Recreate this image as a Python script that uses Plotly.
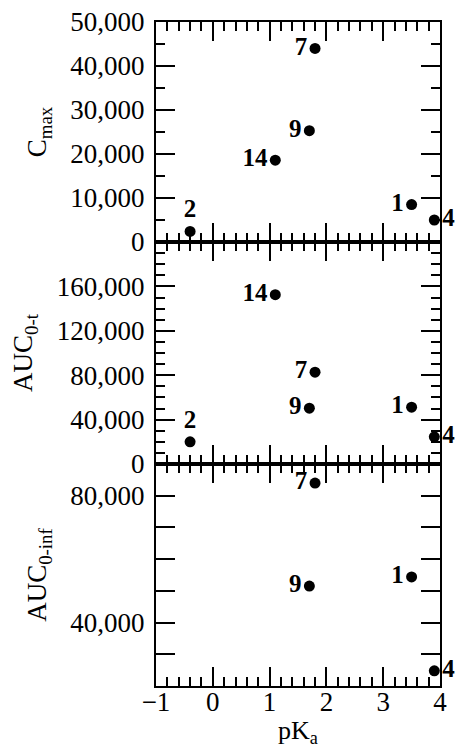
import plotly.graph_objects as go

# ---------------- data ----------------
compounds = ["1", "2", "4", "7", "9", "14"]
pka = [3.5, -0.4, 3.9, 1.8, 1.7, 1.1]
cmax = [8500, 2400, 5000, 44000, 25300, 18600]
auc_0t = [51200, 20000, 24500, 82700, 50300, 152500]
auc_0inf = [54400, None, 24800, 84000, 51500, None]
label_pos = ["middle left", "top center", "middle right",
             "middle left", "middle left", "middle left"]

x_ticks = [-1, 0, 1, 2, 3, 4]
cmax_ticks = [0, 10000, 20000, 30000, 40000, 50000]
auc0t_ticks = [0, 40000, 80000, 120000, 160000]
aucinf_ticks = [40000, 80000]

SERIF = "Liberation Serif"

fig = go.Figure()

panels = [(cmax, "x", "y"), (auc_0t, "x2", "y2"), (auc_0inf, "x3", "y3")]
for vals, xa, ya in panels:
    xs, ys, ts, ps = [], [], [], []
    for c, xv, yv, p in zip(compounds, pka, vals, label_pos):
        if yv is None:
            continue
        xs.append(xv); ys.append(yv); ts.append(c); ps.append(p)
    fig.add_trace(go.Scatter(
        x=xs, y=ys, text=ts, textposition=ps, mode="markers+text",
        marker=dict(color="black", size=11),
        textfont=dict(family=SERIF, size=25, color="black", weight="bold"),
        cliponaxis=False, xaxis=xa, yaxis=ya, showlegend=False,
    ))

h = 664.0
d3 = (0, 222 / h)
d2 = (222 / h, 444 / h)
d1 = (444 / h, 1)

common_axis = dict(
    showline=True, linecolor="black", linewidth=2, mirror="ticks",
    ticks="inside", tickcolor="black", tickwidth=2, showgrid=False,
    zeroline=False, automargin=False, ticklabelstandoff=4,
    tickfont=dict(family=SERIF, size=27, color="black"),
)

def minor(dt, ln):
    return dict(dtick=dt, tick0=0, ticklen=ln, tickwidth=2,
                tickcolor="black", ticks="inside", showgrid=False)

xcommon = dict(common_axis, range=[-1, 4], tickvals=x_ticks, ticklen=19,
               minor=minor(0.2, 9))

ytitle_font = dict(family=SERIF, size=27, color="black")

fig.update_layout(
    width=464, height=749,
    margin=dict(l=156, r=24, t=22, b=63, autoexpand=False),
    paper_bgcolor="white", plot_bgcolor="white",
    xaxis=dict(xcommon, domain=[0, 1], anchor="y", matches="x3",
               showticklabels=False),
    xaxis2=dict(xcommon, domain=[0, 1], anchor="y2", matches="x3",
                showticklabels=False),
    xaxis3=dict(xcommon, domain=[0, 1], anchor="y3", ticklabelstandoff=-9,
                title=dict(text="pK<sub>a</sub>",
                           font=dict(family=SERIF, size=26, color="black"),
                           standoff=4)),
    # explicit top axis for the upper panel so its top ticks are always drawn
    xaxis4=dict(xcommon, domain=[0, 1], anchor="y", overlaying="x",
                side="top", matches="x3", mirror=False,
                showticklabels=False),
    yaxis=dict(common_axis, domain=list(d1), anchor="x", range=[0, 50000],
               tickvals=cmax_ticks, tickformat=",", ticklen=19,
               minor=minor(5000, 9),
               title=dict(text="C<sub>max</sub>", font=ytitle_font,
                          standoff=16)),
    yaxis2=dict(common_axis, domain=list(d2), anchor="x2", range=[0, 200000],
                tickvals=auc0t_ticks, tickformat=",", ticklen=19,
                minor=minor(10000, 9),
                title=dict(text="AUC<sub>0-t</sub>", font=ytitle_font,
                           standoff=16)),
    yaxis3=dict(common_axis, domain=list(d3), anchor="x3", range=[20000, 90000],
                tickvals=aucinf_ticks, tickformat=",", ticklen=19,
                minor=minor(10000, 19),
                title=dict(text="AUC<sub>0-inf</sub>", font=ytitle_font,
                           standoff=16)),
)

# remove the default 8px page margin so the figure sits at the window corner
fig.write_html("out.html",
               config={"displayModeBar": False},
               post_script="document.body.style.margin='0';")
